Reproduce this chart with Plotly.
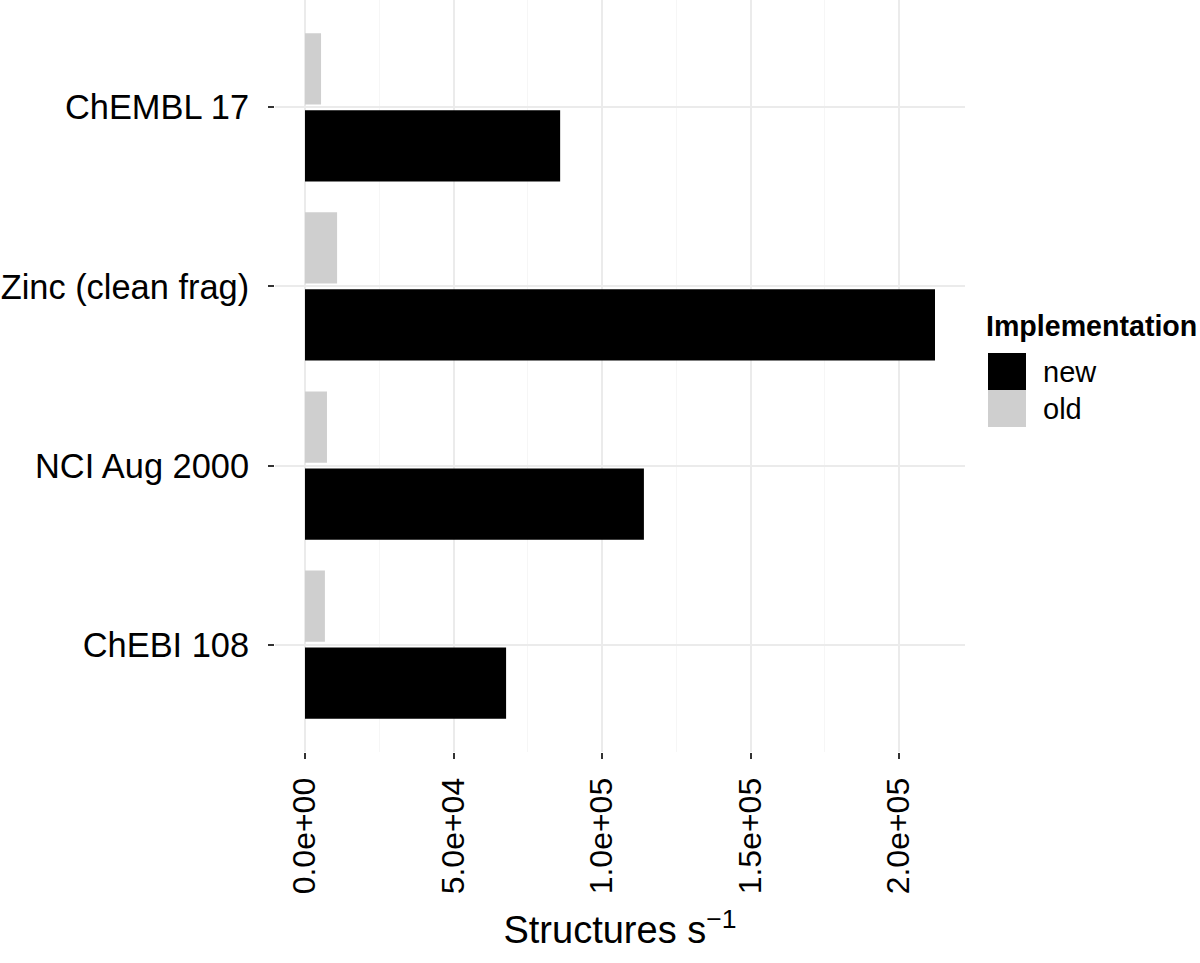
import plotly.graph_objects as go

# ---- data ----
categories = ["ChEBI 108", "NCI Aug 2000", "Zinc (clean frag)", "ChEMBL 17"]  # bottom -> top
new_values = [67700, 114100, 212100, 85900]
old_values = [6700, 7400, 10800, 5400]
series_names = ["new", "old"]
series_colors = ["#000000", "#cfcfcf"]
x_tick_values = [0, 50000, 100000, 150000, 200000]
x_tick_labels = ["0.0e+00", "5.0e+04", "1.0e+05", "1.5e+05", "2.0e+05"]
x_minor_values = [25000, 75000, 125000, 175000]
legend_title = "Implementation"
x_title = "Structures s<sup>\u22121</sup>"

FONT = "Liberation Sans, Arial, Helvetica, sans-serif"
W, H = 1200, 963
ML, MR, MT, MB = 275, 235, 0, 211
PW, PH = W - ML - MR, H - MT - MB

fig = go.Figure()
for name, vals, col in zip(series_names, [new_values, old_values], series_colors):
    fig.add_trace(go.Bar(
        y=categories, x=vals, name=name, orientation="h",
        marker=dict(color=col, line=dict(width=0)),
        showlegend=False,
    ))

# custom legend (ggplot-like large keys)
def px2paper(px, py):
    return (px - ML) / PW, (H - MB - py) / PH

shapes = []
annotations = []
key_x0, key_x1 = 988, 1026
key_top = 353
key_h = 37
for i, (name, col) in enumerate(zip(series_names, series_colors)):
    y0 = key_top + i * key_h
    y1 = y0 + key_h
    a, b = px2paper(key_x0, y1)
    c, d = px2paper(key_x1, y0)
    shapes.append(dict(type="rect", xref="paper", yref="paper", x0=a, y0=b, x1=c, y1=d,
                       fillcolor=col, line=dict(width=0), layer="above"))
    lx, ly = px2paper(1041, (y0 + y1) / 2)
    annotations.append(dict(text=name, xref="paper", yref="paper", x=lx, y=ly,
                            xanchor="left", yanchor="middle", showarrow=False,
                            font=dict(family=FONT, size=29, color="#000000")))
tx, ty = px2paper(984, 326)
annotations.append(dict(text="<b>" + legend_title + "</b>", xref="paper", yref="paper",
                        x=tx, y=ty, xanchor="left", yanchor="middle", showarrow=False,
                        font=dict(family=FONT, size=28.6, color="#000000")))

fig.update_layout(
    width=W, height=H,
    margin=dict(l=ML, r=MR, t=MT, b=MB, autoexpand=False),
    paper_bgcolor="white", plot_bgcolor="white",
    barmode="group", bargap=0.14, bargroupgap=0.075,
    font=dict(family=FONT, color="#000000"),
    shapes=shapes, annotations=annotations,
    showlegend=False,
)
fig.update_xaxes(
    range=[-10100, 222200], automargin=False,
    tickmode="array", tickvals=x_tick_values, ticktext=x_tick_labels,
    tickangle=-90, tickfont=dict(family=FONT, size=32, color="#000000"),
    ticks="outside", ticklen=6, tickwidth=1.5, tickcolor="#333333",
    ticklabelstandoff=6,
    showgrid=True, gridcolor="#ebebeb", gridwidth=2,
    minor=dict(tickvals=x_minor_values, showgrid=True, gridcolor="#f6f6f6", gridwidth=1, ticks=""),
    zeroline=False, showline=False,
    title=dict(text=x_title, font=dict(family=FONT, size=38, color="#000000"), standoff=23),
)
fig.update_yaxes(
    type="category", categoryorder="array", categoryarray=categories,
    range=[-0.6, 3.6], automargin=False,
    tickfont=dict(family=FONT, size=34.4, color="#000000"),
    ticks="outside", ticklen=6, tickwidth=1.5, tickcolor="#333333",
    ticklabelstandoff=12,
    showgrid=True, gridcolor="#ebebeb", gridwidth=2,
    zeroline=False, showline=False,
)

fig.write_html("out.html", config={"displayModeBar": False},
               post_script="document.body.style.margin='0';")
